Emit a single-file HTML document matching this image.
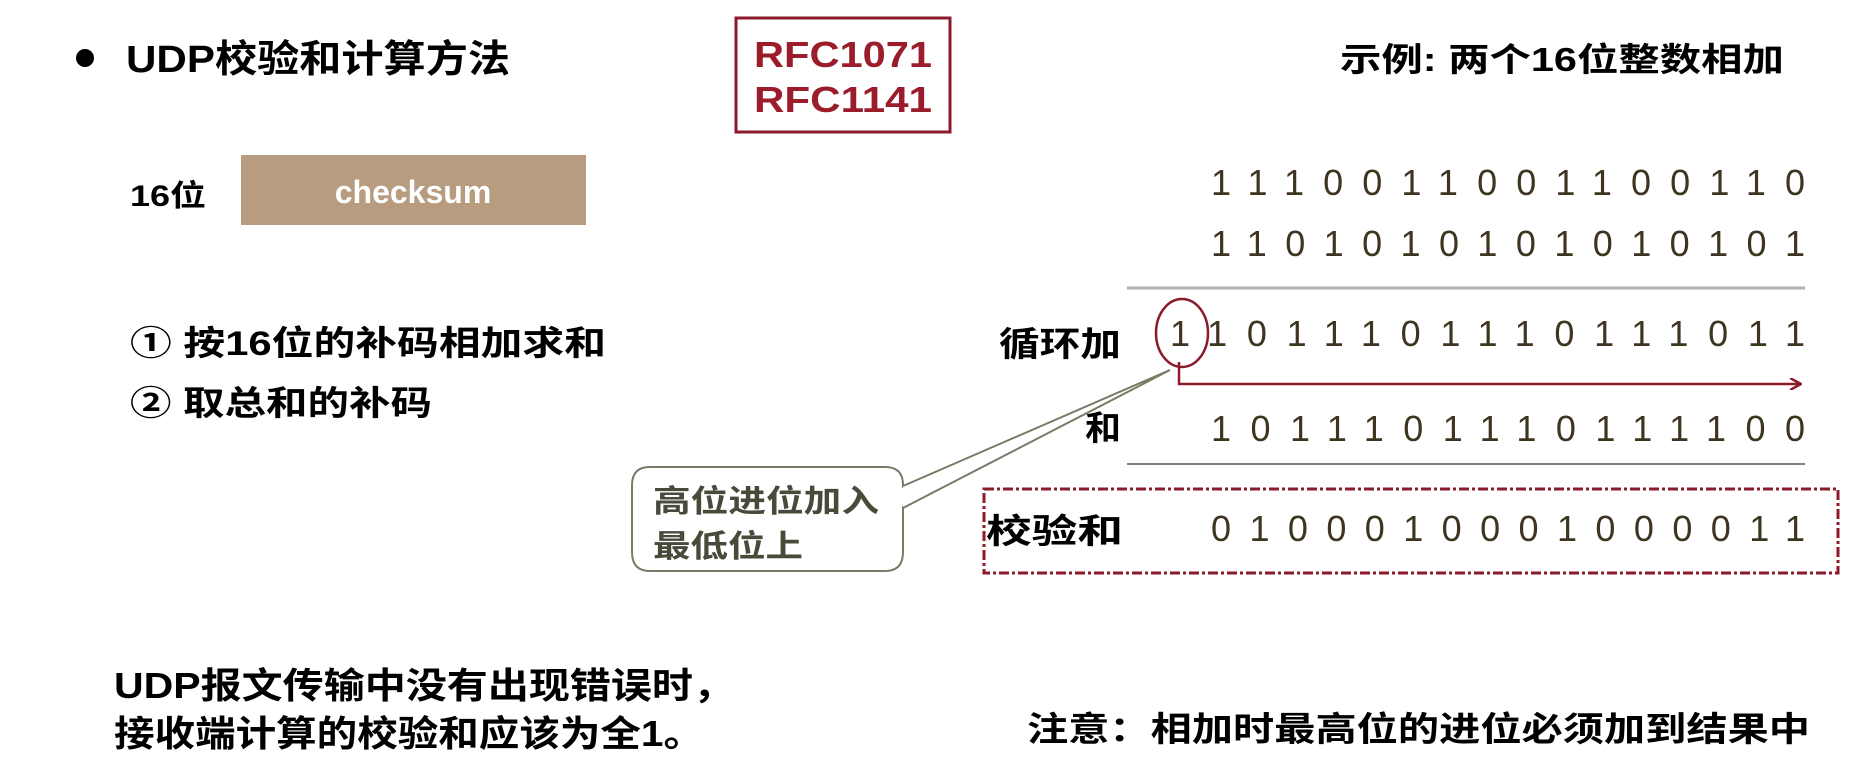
<!DOCTYPE html>
<html><head><meta charset="utf-8"><style>html,body{margin:0;padding:0;background:#fff;}svg{display:block}</style></head>
<body>
<svg width="1858" height="776" viewBox="0 0 1858 776" xmlns="http://www.w3.org/2000/svg" font-family="'Liberation Sans','Noto Sans CJK SC',sans-serif">
<defs><marker id="ah" markerWidth="12" markerHeight="12" refX="10" refY="6" orient="auto" markerUnits="userSpaceOnUse"><path d="M0,0 L11,6 L0,12" fill="none" stroke="#8b1a2b" stroke-width="2.5"/></marker></defs>
<g font-weight="bold" fill="#000">
<circle cx="85" cy="58" r="9" fill="#000"/>
<text x="126" y="72" font-size="38" textLength="384" lengthAdjust="spacingAndGlyphs">UDP校验和计算方法</text>
<rect x="736" y="18" width="214" height="114" fill="none" stroke="#8b1a2b" stroke-width="3"/>
<text x="754" y="67" font-size="36" fill="#9b1c2a" textLength="178" lengthAdjust="spacingAndGlyphs">RFC1071</text>
<text x="754" y="112" font-size="36" fill="#9b1c2a" textLength="178" lengthAdjust="spacingAndGlyphs">RFC1141</text>
<text x="1340" y="71" font-size="33" textLength="444" lengthAdjust="spacingAndGlyphs">示例: 两个16位整数相加</text>
<text x="130" y="206" font-size="30" textLength="76" lengthAdjust="spacingAndGlyphs">16位</text>
<rect x="241" y="155" width="345" height="70" fill="#b89c80"/>
<text x="413" y="203" font-size="32" fill="#fff" text-anchor="middle">checksum</text>
<text x="130" y="355" font-size="34" textLength="476" lengthAdjust="spacingAndGlyphs">① 按16位的补码相加求和</text>
<text x="130" y="415" font-size="34" textLength="302" lengthAdjust="spacingAndGlyphs">② 取总和的补码</text>
<text x="999" y="356" font-size="34" textLength="122" lengthAdjust="spacingAndGlyphs">循环加</text>
<text x="1085" y="440" font-size="34" textLength="36" lengthAdjust="spacingAndGlyphs">和</text>
<text x="986" y="543" font-size="34" textLength="137" lengthAdjust="spacingAndGlyphs">校验和</text>
<text x="114" y="698" font-size="36" textLength="620" lengthAdjust="spacingAndGlyphs">UDP报文传输中没有出现错误时，</text>
<text x="114" y="746" font-size="36" textLength="590" lengthAdjust="spacingAndGlyphs">接收端计算的校验和应该为全1。</text>
<text x="1027" y="741" font-size="34" textLength="783" lengthAdjust="spacingAndGlyphs">注意：相加时最高位的进位必须加到结果中</text>
</g>
<g font-size="36" fill="#3d3520">
<text x="1211" y="195" textLength="594" lengthAdjust="spacing">1110011001100110</text>
<text x="1211" y="256" textLength="594" lengthAdjust="spacing">1101010101010101</text>
<text x="1170" y="346" textLength="635" lengthAdjust="spacing">11011101110111011</text>
<text x="1211" y="441" textLength="594" lengthAdjust="spacing">1011101110111100</text>
<text x="1211" y="541" textLength="594" lengthAdjust="spacing">0100010001000011</text>
</g>
<line x1="1127" y1="288" x2="1805" y2="288" stroke="#b0b0b0" stroke-width="3"/>
<line x1="1127" y1="464" x2="1805" y2="464" stroke="#808080" stroke-width="2"/>
<ellipse cx="1182" cy="333" rx="26" ry="34" fill="none" stroke="#8b1a2b" stroke-width="2.5"/>
<path d="M1179,362 L1179,384 L1800,384" fill="none" stroke="#8b1a2b" stroke-width="2.5" marker-end="url(#ah)"/>
<rect x="984" y="489" width="854" height="84" fill="none" stroke="#8b1a2b" stroke-width="3" stroke-dasharray="10,3,3,3"/>
<path d="M650,467 L885,467 Q903,467 903,485 L903,552 Q903,571 885,571 L650,571 Q632,571 632,552 L632,485 Q632,467 650,467 Z" fill="#fff" stroke="#7a7a66" stroke-width="2"/>
<path d="M903,486 L1170,370 L903,508" fill="#fff" stroke="#7a7a66" stroke-width="2"/>
<line x1="903" y1="488" x2="903" y2="506" stroke="#fff" stroke-width="3"/>
<g font-size="31" fill="#4a4a3a" font-weight="bold">
<text x="653" y="512" textLength="226" lengthAdjust="spacingAndGlyphs">高位进位加入</text>
<text x="653" y="557" textLength="150" lengthAdjust="spacingAndGlyphs">最低位上</text>
</g>
</svg>
</body></html>
